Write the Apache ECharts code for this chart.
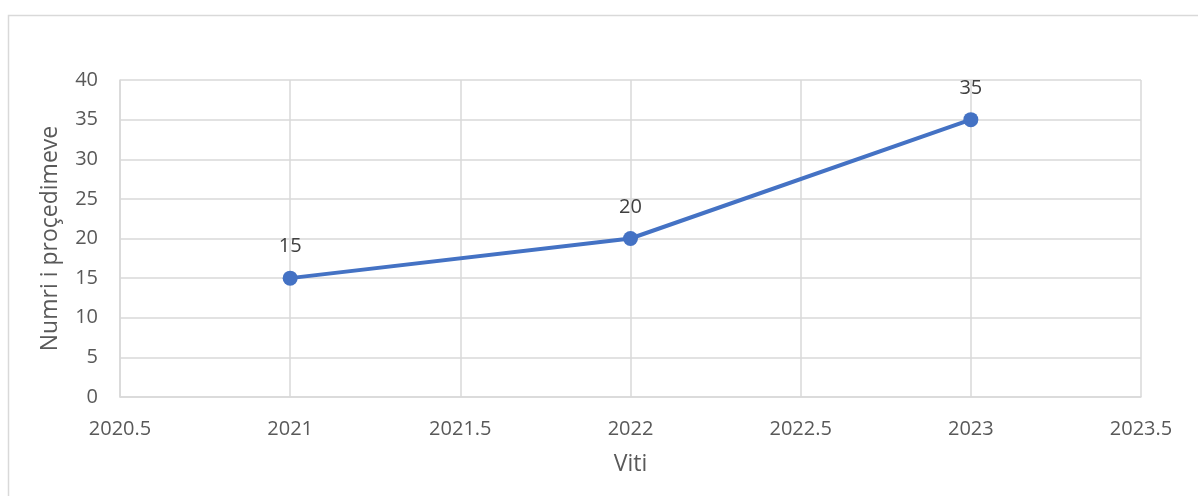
<!DOCTYPE html>
<html>
<head>
<meta charset="utf-8">
<script src="https://cdn.jsdelivr.net/npm/echarts@6/dist/echarts.min.js"></script>
<style>
  html, body { margin: 0; padding: 0; background: #fff; }
  #chart { width: 1198px; height: 496px; }
</style>
</head>
<body>
<div id="chart"></div>
<script>
const years = [2021, 2022, 2023];
const counts = [15, 20, 35];

const font = "'Open Sans', 'Liberation Sans', sans-serif";
const gray = "#595959";

const chart = echarts.init(document.getElementById("chart"));
chart.setOption({
  animation: false,
  textStyle: { fontFamily: font },
  graphic: [
    {
      type: "rect",
      shape: { x: 8.5, y: 15.5, width: 1200, height: 500 },
      style: { fill: "none", stroke: "#d9d9d9", lineWidth: 1.5 },
    },
  ],
  grid: { left: 120, right: 57, top: 80, bottom: 99 },
  xAxis: {
    type: "value",
    min: 2020.5,
    max: 2023.5,
    interval: 0.5,
    name: "Viti",
    nameLocation: "middle",
    nameGap: 56,
    nameTextStyle: { fontSize: 23, color: gray, fontFamily: font },
    axisLine: { show: true, lineStyle: { color: "#d9d9d9", width: 1.5 } },
    axisTick: { show: false },
    axisLabel: {
      fontSize: 20,
      color: gray,
      margin: 22,
      fontFamily: font,
      formatter: (v) => String(v),
    },
    splitLine: { show: true, lineStyle: { color: "#d9d9d9", width: 1.5 } },
  },
  yAxis: {
    type: "value",
    min: 0,
    max: 40,
    interval: 5,
    name: "Numri i proçedimeve",
    nameLocation: "middle",
    nameGap: 58,
    nameTextStyle: { fontSize: 23, color: gray, fontFamily: font },
    axisLine: { show: true, lineStyle: { color: "#d9d9d9", width: 1.5 } },
    axisTick: { show: false },
    axisLabel: { fontSize: 20, color: gray, margin: 22, fontFamily: font },
    splitLine: { show: true, lineStyle: { color: "#d9d9d9", width: 1.5 } },
  },
  series: [
    {
      type: "line",
      data: years.map((y, i) => [y, counts[i]]),
      symbol: "circle",
      symbolSize: 15,
      lineStyle: { color: "#4472c4", width: 4 },
      itemStyle: { color: "#4472c4" },
      label: {
        show: true,
        position: "top",
        distance: 14,
        fontSize: 20,
        color: "#404040",
        fontFamily: font,
        formatter: (p) => p.value[1],
      },
    },
  ],
});
</script>
</body>
</html>
